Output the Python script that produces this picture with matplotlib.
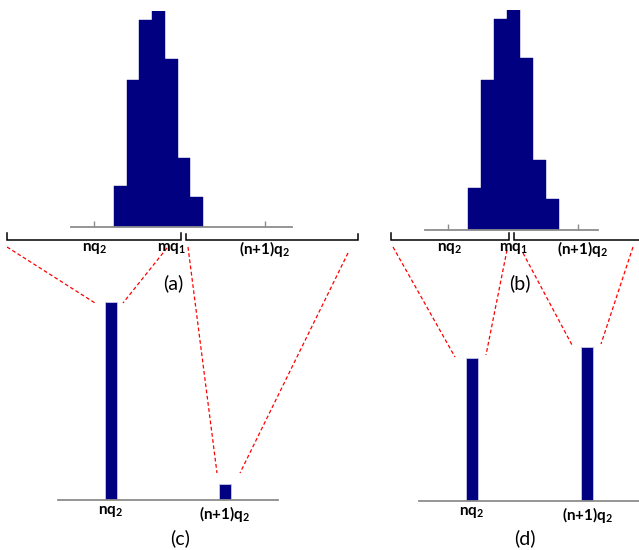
import matplotlib
matplotlib.use("Agg")
import matplotlib.pyplot as plt

plt.rcParams["font.family"] = ["Lato", "DejaVu Sans"]
plt.rcParams["mathtext.fontset"] = "custom"
plt.rcParams["mathtext.rm"] = "Lato"
plt.rcParams["mathtext.bf"] = "Lato:bold"

W, H = 639, 550

# histogram of the count (same shape in panels a and b)
hist_bins = [0, 1, 2, 3, 4, 5, 6]
hist_counts = [19, 68, 96, 100, 78, 32, 14]

# two-point projection of the histogram
proj_pos = [0, 1]
proj_labels = [r"$\mathbf{nq_2}$", r"$\mathbf{(n{+}1)q_2}$"]
c_heights = [100, 8]
d_heights = [72, 78]

NAVY = "#000080"
GRAY = "#8c8c8c"


def px_axes(fig, left, right, top, bottom):
    # axes placed by pixel box (origin top-left)
    ax = fig.add_axes([left / W, 1 - bottom / H, (right - left) / W, (bottom - top) / H])
    ax.patch.set_alpha(0)
    for s in ["top", "left", "right"]:
        ax.spines[s].set_visible(False)
    ax.spines["bottom"].set_color(GRAY)
    ax.spines["bottom"].set_linewidth(1.3)
    ax.set_yticks([])
    return ax


def draw_hist(ax, xlim, ticks):
    ax.bar(hist_bins, hist_counts, width=1.0, color=NAVY, edgecolor=NAVY, linewidth=0.3)
    ax.set_xlim(*xlim)
    ax.set_ylim(0, 100)
    ax.set_xticks(ticks)
    ax.set_xticklabels([])
    ax.tick_params(axis="x", direction="in", length=4, width=1, color=GRAY)


def draw_proj(ax, heights, xlim):
    ax.bar(proj_pos, heights, width=0.105, color=NAVY, edgecolor="#c8c8e8", linewidth=0.6)
    ax.set_xlim(*xlim)
    ax.set_ylim(0, 100)
    ax.set_xticks(proj_pos)
    ax.set_xticklabels(proj_labels, fontsize=11)
    ax.tick_params(axis="x", length=0, pad=3)


fig = plt.figure(figsize=(W / 100, H / 100), dpi=100)

# (a) and (b) histograms
ax_a = px_axes(fig, 71, 292, 11, 227)
draw_hist(ax_a, (-3.89, 13.52), [-2.07, 11.39])
ax_b = px_axes(fig, 425, 598, 10, 230)
draw_hist(ax_b, (-3.81, 9.5), [-2.04, 7.96])

# (c) and (d) projections
ax_c = px_axes(fig, 58, 278, 302, 500)
draw_proj(ax_c, c_heights, (-0.465, 1.465))
ax_d = px_axes(fig, 419, 639, 303, 501)
draw_proj(ax_d, d_heights, (-0.46, 1.45))

# overlay for brackets, guide lines and captions
ov = fig.add_axes([0, 0, 1, 1], zorder=5)
ov.patch.set_alpha(0)
ov.set_xlim(0, W)
ov.set_ylim(H, 0)
ov.axis("off")

brackets = [
    ([7, 7, 181, 181], [233, 240, 240, 233]),
    ([186, 186, 358, 358], [234, 240, 240, 234]),
    ([391, 391, 509, 509], [233, 240, 240, 233]),
    ([514, 514, 639], [233, 240, 240]),
]
for xs, ys in brackets:
    ov.plot(xs, ys, color="black", lw=1.1, solid_joinstyle="miter")

guides = [
    ((7, 247), (95, 303)),
    ((167, 248), (123, 303)),
    ((188, 247), (217, 473)),
    ((348, 253), (240, 473)),
    ((393, 247), (455, 357)),
    ((507, 250), (486, 355)),
    ((523, 253), (572, 345)),
    ((633, 247), (601, 344)),
]
for (x0, y0), (x1, y1) in guides:
    ov.plot([x0, x1], [y0, y1], color="red", lw=0.9, linestyle=(0, (3, 2)))

lab_kw = dict(ha="center", va="center", fontsize=11)
for x, s in [(95, r"$\mathbf{nq_2}$"), (172, r"$\mathbf{mq_1}$"), (265, proj_labels[1]),
             (450, r"$\mathbf{nq_2}$"), (514, r"$\mathbf{mq_1}$"), (583, proj_labels[1])]:
    ov.text(x, 249, s, **lab_kw)

for x, y, s in [(173, 283, "(a)"), (520, 283, "(b)"), (180, 538, "(c)"), (525, 538, "(d)")]:
    ov.text(x, y, s, ha="center", va="center", fontsize=14)

fig.savefig("out.png", dpi=100)
